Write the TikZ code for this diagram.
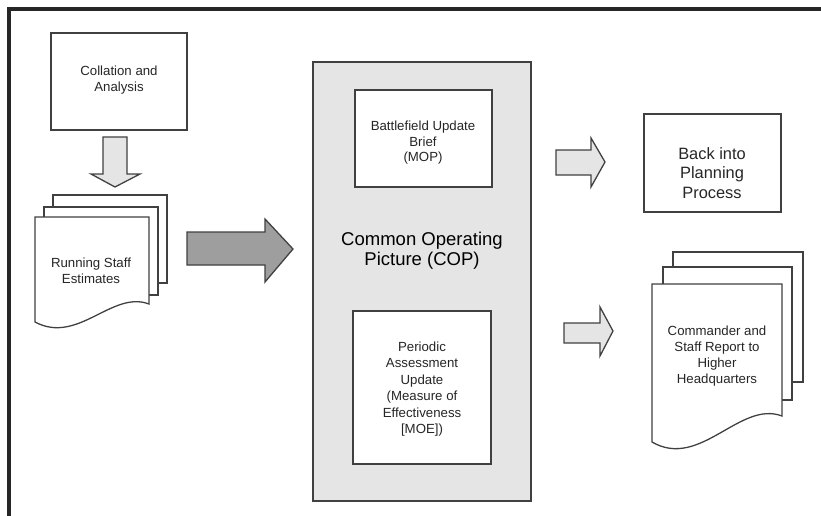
\documentclass[tikz,border=0pt]{standalone}
\usepackage{fontspec}
\setmainfont{Liberation Sans}
\begin{document}
\begin{tikzpicture}[x=0.3mm, y=-0.3mm,
	box/.style={draw=black!75, line width=1.1pt},
	blk/.style={draw=black!75, line width=1.1pt, fill=black!10},
	lbl/.style={align=center, text=black!85, font=\fontsize{11.3}{13.6}\selectfont}]
	\useasboundingbox (0,0) rectangle (821,516);
	\draw[line width=2.6pt, black!85] (9,516) -- (9,9) -- (821,9);
	\draw[box] (51,33) rectangle (187,130);
	\node[lbl] (collation) at (119,80) {Collation and\\Analysis};
	\draw[blk] (103,137) -- (127,137) -- (127,174) -- (140,174) -- (115,187) -- (91,174) -- (103,174) -- cycle;
	\draw[box, fill=white] (53,195) rectangle (167,283);
	\draw[box, fill=white] (44,207) rectangle (158,295);
	\draw[box, fill=white] (35,217) -- (149,217) -- (149,304) .. controls (112,290) and (78,345) .. (35,322) -- cycle;
	\node[lbl] (estimates) at (91,271) {Running Staff\\Estimates};
	\draw[box, fill=black!38] (187,232) -- (265,232) -- (265,219) -- (293,249) -- (265,282) -- (265,265) -- (187,265) -- cycle;
	\draw[box, fill=black!10] (313,62) rectangle (531,501);
	\node[lbl, font=\fontsize{15.8}{17}\selectfont, text=black] (cop) at (422,251) {Common Operating\\Picture (COP)};
	\draw[box, fill=white] (355,90) rectangle (492,187);
	\node[lbl, font=\fontsize{11.3}{13.2}\selectfont] (brief) at (423,143) {Battlefield Update\\Brief\\(MOP)};
	\draw[box, fill=white] (353,311) rectangle (491,464);
	\node[lbl, font=\fontsize{11.3}{14}\selectfont] (assess) at (422,389) {Periodic\\Assessment\\Update\\(Measure of\\Effectiveness\\{[MOE]})};
	\draw[blk] (556,150) -- (591,150) -- (591,138) -- (605,162) -- (591,187) -- (591,175) -- (556,175) -- cycle;
	\draw[box] (644,114) rectangle (781,212);
	\node[lbl, font=\fontsize{14}{16.6}\selectfont] (planning) at (712,173) {Back into\\Planning\\Process};
	\draw[blk] (564,323) -- (600,323) -- (600,307) -- (613,331) -- (600,356) -- (600,343) -- (564,343) -- cycle;
	\draw[box, fill=white] (673,252) rectangle (803,382);
	\draw[box, fill=white] (663,267) rectangle (792,400);
	\draw[box, fill=white] (652,284) -- (782,284) -- (782,416) .. controls (740,400) and (700,470) .. (652,442) -- cycle;
	\node[lbl] (report) at (717,356) {Commander and\\Staff Report to\\Higher\\Headquarters};
\end{tikzpicture}
\end{document}
